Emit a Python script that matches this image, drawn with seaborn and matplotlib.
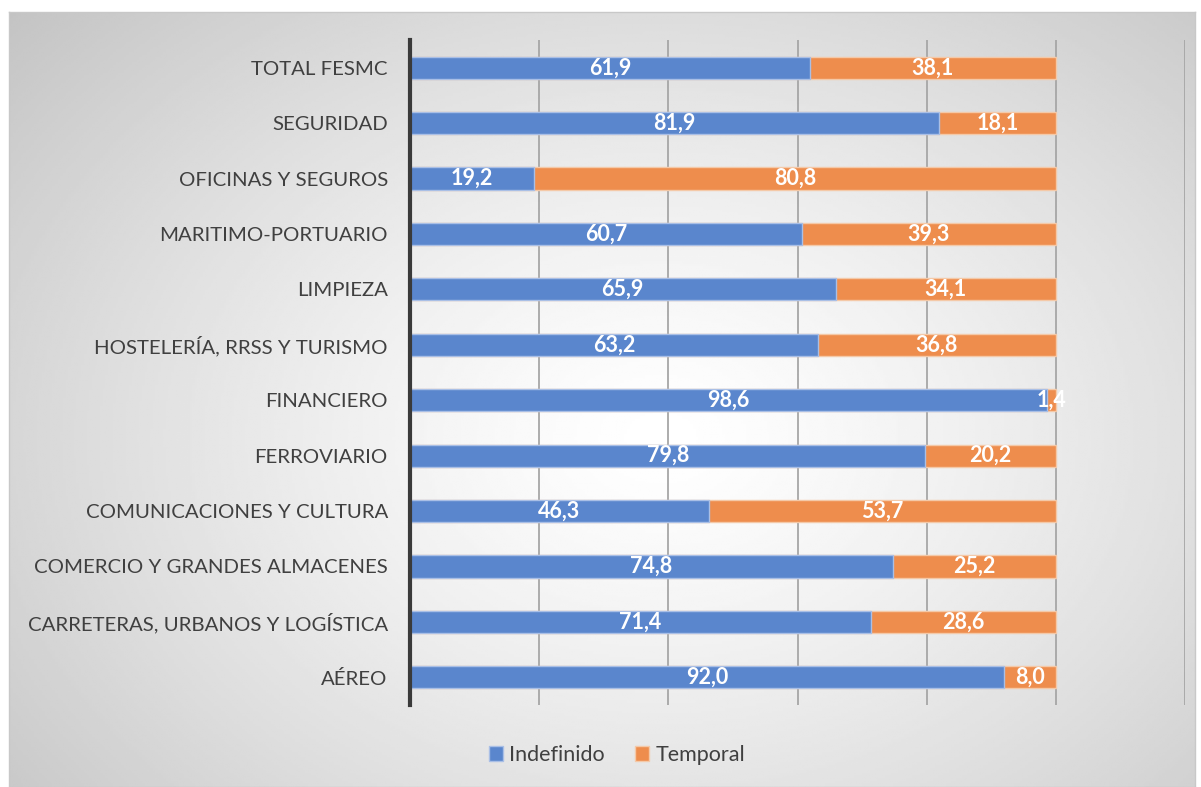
import numpy as np
import pandas as pd
import matplotlib
matplotlib.use('Agg')
import matplotlib.pyplot as plt
import seaborn as sns
from matplotlib.patches import Patch

# ====== DATA

sectors = ['TOTAL FESMC', 'SEGURIDAD', 'OFICINAS Y SEGUROS', 'MARITIMO-PORTUARIO',
           'LIMPIEZA', 'HOSTELERÍA, RRSS Y TURISMO', 'FINANCIERO', 'FERROVIARIO',
           'COMUNICACIONES Y CULTURA', 'COMERCIO Y GRANDES ALMACENES',
           'CARRETERAS, URBANOS Y LOGÍSTICA', 'AÉREO']
indefinido = [61.9, 81.9, 19.2, 60.7, 65.9, 63.2, 98.6, 79.8, 46.3, 74.8, 71.4, 92.0]
temporal = [38.1, 18.1, 80.8, 39.3, 34.1, 36.8, 1.4, 20.2, 53.7, 25.2, 28.6, 8.0]
series_names = ['Indefinido', 'Temporal']

BLUE = '#5A86CD'
ORANGE = '#EE8D4D'
TEXT = '#404040'

df = pd.DataFrame({'sector': sectors, 'Indefinido': indefinido, 'Temporal': temporal})
df['total'] = df['Indefinido'] + df['Temporal']

sns.set_style('white')
plt.rcParams['font.family'] = ['Lato', 'DejaVu Sans']

fig = plt.figure(figsize=(12.01, 7.87), dpi=100)

# ====== gradient background (radial, light centre)
bg = fig.add_axes([9 / 1201, 0, 1186 / 1201, 775 / 787], zorder=0)
yy, xx = np.mgrid[0:1:300j, 0:1:450j]
r = np.sqrt(((xx - 0.55) / 0.75) ** 2 + ((yy - 0.55) / 0.85) ** 2)
shade = 1.0 - 0.24 * np.clip(r, 0, 1) ** 1.3
bg.imshow(shade, cmap='gray', vmin=0, vmax=1, aspect='auto', extent=[0, 1, 0, 1])
bg.set_xticks([])
bg.set_yticks([])
for s in bg.spines.values():
    s.set_color('#c8c8c8')
    s.set_linewidth(1)

# ====== bars
ax = fig.add_axes([410 / 1201, 1 - 705 / 787, 775 / 1201, 665 / 787], zorder=1)
ax.patch.set_alpha(0)

sns.barplot(data=df, y='sector', x='total', color=ORANGE, orient='h', width=0.4,
            saturation=1, edgecolor='#f4c9a8', linewidth=1, ax=ax, zorder=2)
sns.barplot(data=df, y='sector', x='Indefinido', color=BLUE, orient='h', width=0.4,
            saturation=1, edgecolor='#a9bfe6', linewidth=1, ax=ax, zorder=3)

for i, (a, b) in enumerate(zip(indefinido, temporal)):
    ax.text(a / 2, i, f'{a:.1f}'.replace('.', ','), ha='center', va='center',
            color='white', fontsize=15.5, fontweight='bold', zorder=4)
    ax.text(a + b / 2, i, f'{b:.1f}'.replace('.', ','), ha='center', va='center',
            color='white', fontsize=15.5, fontweight='bold', zorder=4)

ax.set_xlim(0, 120)
ax.set_ylim(11.5, -0.5)
ax.set_xticks([0, 20, 40, 60, 80, 100, 120])
ax.set_xticklabels([])
ax.grid(axis='x', color='#a6a6a6', linewidth=1.3, zorder=0)
ax.set_axisbelow(True)
ax.set_xlabel('')
ax.set_ylabel('')
ax.tick_params(axis='y', length=0, pad=16, labelsize=14.7, labelcolor=TEXT)
ax.tick_params(axis='x', length=0)
for side in ['top', 'right', 'bottom']:
    ax.spines[side].set_visible(False)
ax.spines['left'].set_color('#3a3a3a')
ax.spines['left'].set_linewidth(3)
ax.spines['left'].set_zorder(5)

handles = [Patch(facecolor=BLUE, edgecolor='#a9bfe6'), Patch(facecolor=ORANGE, edgecolor='#f4c9a8')]
fig.legend(handles, series_names, loc='center', bbox_to_anchor=(617 / 1201, 1 - 755 / 787),
           ncol=2, frameon=False, fontsize=15.5, labelcolor=TEXT, handlelength=0.65,
           handleheight=0.65, handletextpad=0.3, columnspacing=1.4)

fig.savefig('out.png', dpi=100)
